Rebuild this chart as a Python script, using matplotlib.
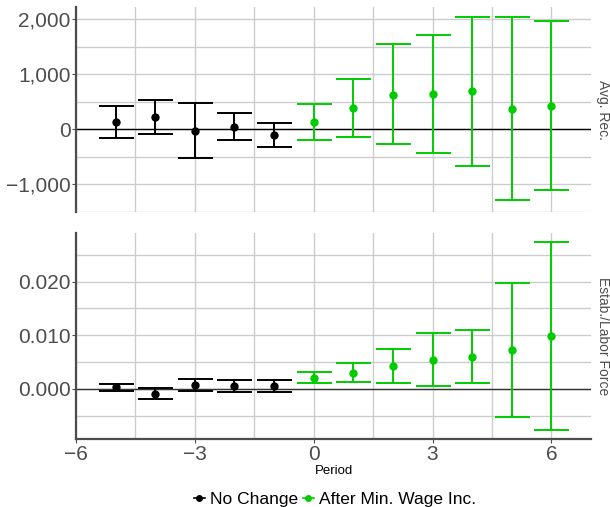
import matplotlib
matplotlib.use("Agg")
import matplotlib.pyplot as plt
from matplotlib.lines import Line2D
from matplotlib.ticker import FuncFormatter
import numpy as np

plt.rcParams['font.family'] = ['Liberation Sans', 'DejaVu Sans']

periods = [-5, -4, -3, -2, -1, 0, 1, 2, 3, 4, 5, 6]
groups = ["No Change"] * 5 + ["After Min. Wage Inc."] * 7

rec_est = [130, 220, -25, 46, -96, 130, 380, 630, 643, 690, 375, 428]
rec_hi = [428, 530, 470, 291, 118, 464, 916, 1541, 1714, 2047, 2041, 1958]
rec_lo = [-160, -84, -518, -196, -316, -196, -143, -268, -423, -667, -1286, -1107]

est_est = [0.00026, -0.00099, 0.00063, 0.00056, 0.00045, 0.00206, 0.0030, 0.00424, 0.00542, 0.00598, 0.00717, 0.0098]
est_hi = [0.00093, 0.00007, 0.00176, 0.00163, 0.00157, 0.00318, 0.00474, 0.00742, 0.01035, 0.01091, 0.0197, 0.0273]
est_lo = [-0.00037, -0.00198, -0.00043, -0.00056, -0.00062, 0.00101, 0.00125, 0.00107, 0.0005, 0.00112, -0.00523, -0.0076]

facets = ["Avg. Rec.", "Estab./Labor Force"]
colors = {"No Change": "#000000", "After Min. Wage Inc.": "#00CC00"}

W, H = 610, 507
fig = plt.figure(figsize=(W / 100, H / 100), dpi=100)
ax1 = fig.add_axes([76 / W, 1 - 212 / H, (591 - 76) / W, (212 - 7) / H])
ax2 = fig.add_axes([76 / W, 1 - 439 / H, (591 - 76) / W, (439 - 233) / H])

gray = "#4D4D4D"
grid_c = "#CCCCCC"

def style(ax, ylim, yticks, yminor, fmt, show_x):
    ax.set_xlim(-6, 7)
    ax.set_ylim(*ylim)
    ax.set_xticks([-6, -3, 0, 3, 6])
    ax.set_xticks([-4.5, -1.5, 1.5, 4.5], minor=True)
    ax.set_yticks(yticks)
    ax.set_yticks(yminor, minor=True)
    ax.yaxis.set_major_formatter(FuncFormatter(fmt))
    ax.xaxis.set_major_formatter(FuncFormatter(lambda v, p: f"{int(v)}".replace("-", "\u2212")))
    ax.grid(True, which="both", color=grid_c, linewidth=1.0)
    ax.set_axisbelow(True)
    for s in ["top", "right"]:
        ax.spines[s].set_visible(False)
    ax.spines["left"].set_color(gray)
    ax.spines["left"].set_linewidth(1.6)
    if show_x:
        ax.spines["bottom"].set_color(gray)
        ax.spines["bottom"].set_linewidth(1.6)
        ax.tick_params(axis="x", which="major", length=3, color=gray, labelsize=15, labelcolor=gray, pad=1)
    else:
        ax.spines["bottom"].set_visible(False)
        ax.tick_params(axis="x", which="major", length=0, labelbottom=False)
    ax.tick_params(axis="x", which="minor", length=0)
    ax.tick_params(axis="y", which="major", length=3, color=gray, labelsize=15, labelcolor=gray, pad=1)
    ax.tick_params(axis="y", which="minor", length=0)

def draw(ax, est, lo, hi, zero_color):
    ax.axhline(0, color=zero_color, linewidth=1.0, zorder=1)
    for p, g, e, l, h in zip(periods, groups, est, lo, hi):
        c = colors[g]
        ax.errorbar([p], [e], yerr=[[e - l], [h - e]], fmt="o", color=c, ecolor=c,
                    markersize=5, elinewidth=1.4, capsize=12.6, capthick=1.4, zorder=3)

draw(ax1, rec_est, rec_lo, rec_hi, "#000000")
draw(ax2, est_est, est_lo, est_hi, "#333333")

style(ax1, (-1440, 2220), [-1000, 0, 1000, 2000], [-1500, -500, 500, 1500],
      lambda v, p: f"{int(round(v)):,}".replace("-", "\u2212"), False)
style(ax2, (-0.00935, 0.02905), [0.0, 0.01, 0.02], [-0.005, 0.005, 0.015, 0.025],
      lambda v, p: f"{v:.3f}".replace("-", "\u2212"), True)

for ax, lab in zip([ax1, ax2], facets):
    ax.text(1.01, 0.5, lab, transform=ax.transAxes, rotation=-90, ha="left", va="center",
            fontsize=10, color=gray)

ax2.set_xlabel("Period", fontsize=9.5, color="#000000", labelpad=1)

handles = [Line2D([], [], color=colors[g], marker="o", markersize=4, linewidth=1.2)
           for g in ["No Change", "After Min. Wage Inc."]]
fig.legend(handles, ["No Change", "After Min. Wage Inc."], loc="lower center",
           bbox_to_anchor=(0.5 + 30 / W, -0.03), ncol=2, frameon=False, fontsize=12.5,
           handlelength=0.6, handletextpad=0.3, columnspacing=0.3)

fig.savefig("out.png", dpi=100)
